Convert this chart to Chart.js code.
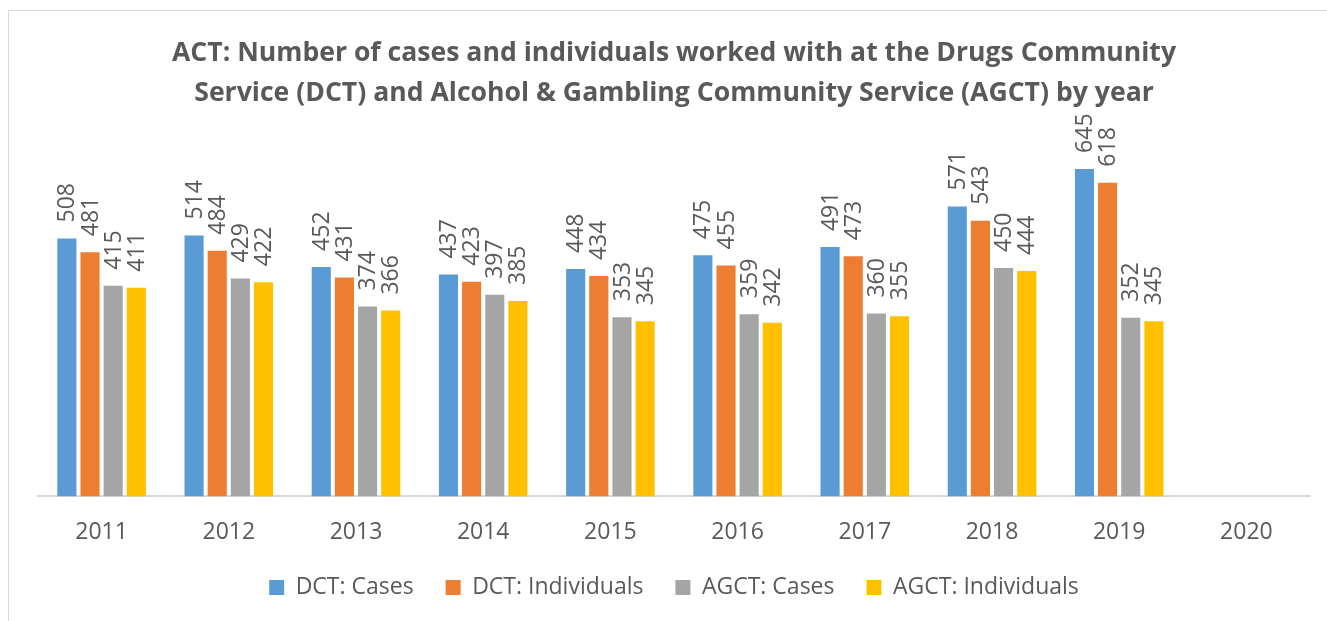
<!DOCTYPE html>
<html>
<head>
<meta charset="utf-8">
<script src="https://cdn.jsdelivr.net/npm/chart.js@4.4.1/dist/chart.umd.min.js"></script>
<style>
  html, body { margin: 0; padding: 0; background: #fff; overflow: hidden; }
  #frame { position: absolute; left: 8px; top: 10px; width: 1400px; height: 700px; border: 1px solid #d9d9d9; }
  #wrap { position: absolute; left: 0; top: 0; width: 1327px; height: 621px; }
</style>
</head>
<body>
<div id="frame"></div>
<div id="wrap"><canvas id="myChart"></canvas></div>
<script>
const years = ["2011", "2012", "2013", "2014", "2015", "2016", "2017", "2018", "2019", "2020"];
const dctCases = [508, 514, 452, 437, 448, 475, 491, 571, 645, null];
const dctIndividuals = [481, 484, 431, 423, 434, 455, 473, 543, 618, null];
const agctCases = [415, 429, 374, 397, 353, 359, 360, 450, 352, null];
const agctIndividuals = [411, 422, 366, 385, 345, 342, 355, 444, 345, null];

const textColor = "#595959";
const fontFamily = "'Open Sans', Lato, sans-serif";

// rotated value labels above each bar
const barLabels = {
  id: "barLabels",
  afterDatasetsDraw(chart) {
    const c = chart.ctx;
    chart.data.datasets.forEach((ds, i) => {
      const meta = chart.getDatasetMeta(i);
      meta.data.forEach((bar, j) => {
        const v = ds.data[j];
        if (v == null) return;
        c.save();
        c.translate(bar.x, bar.y - 16);
        c.rotate(-Math.PI / 2);
        c.font = "23px " + fontFamily;
        c.fillStyle = textColor;
        c.textAlign = "left";
        c.textBaseline = "middle";
        c.fillText(String(v), 0, 1);
        c.restore();
      });
    });
  },
};

// pull the legend up closer to the axis labels
const legendShift = {
  id: "legendShift",
  afterLayout(chart) {
    const lg = chart.legend;
    if (!lg) return;
    lg.top -= 24;
    lg.bottom -= 24;
  },
};

const ctx = document.getElementById("myChart");

new Chart(ctx, {
  type: "bar",
  data: {
    labels: years,
    datasets: [
      { label: "DCT: Cases", data: dctCases, backgroundColor: "#5B9BD5" },
      { label: "DCT: Individuals", data: dctIndividuals, backgroundColor: "#ED7D31" },
      { label: "AGCT: Cases", data: agctCases, backgroundColor: "#A5A5A5" },
      { label: "AGCT: Individuals", data: agctIndividuals, backgroundColor: "#FFC000" },
    ],
  },
  options: {
    responsive: true,
    maintainAspectRatio: false,
    animation: false,
    datasets: {
      bar: {
        categoryPercentage: 0.728,
        barPercentage: 0.826,
      },
    },
    layout: {
      padding: { left: 38, right: 17, top: 22, bottom: -12 },
    },
    scales: {
      x: {
        grid: { display: false, drawTicks: false },
        border: { color: "#d9d9d9", width: 2 },
        ticks: {
          color: textColor,
          font: { family: fontFamily, size: 23 },
          padding: 22,
        },
      },
      y: {
        display: false,
        min: 0,
        max: 700,
      },
    },
    plugins: {
      title: {
        display: true,
        text: [
          "ACT: Number of cases and individuals worked with at the Drugs Community",
          "Service (DCT) and Alcohol & Gambling Community Service (AGCT) by year",
        ],
        color: textColor,
        font: { family: fontFamily, size: 26.6, weight: "bold", lineHeight: 40 / 26.6 },
        padding: { top: 11, bottom: 28 },
      },
      legend: {
        position: "bottom",
        labels: {
          color: textColor,
          font: { family: fontFamily, size: 23 },
          boxWidth: 15,
          boxHeight: 15,
          padding: 32,
        },
      },
      tooltip: { enabled: false },
    },
  },
  plugins: [barLabels, legendShift],
});
</script>
</body>
</html>
